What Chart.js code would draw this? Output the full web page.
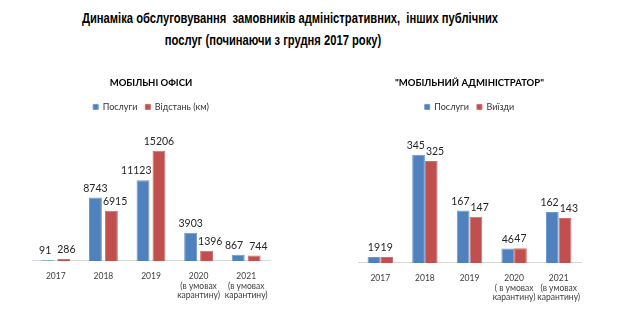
<!DOCTYPE html>
<html>
<head>
<meta charset="utf-8">
<script src="https://cdn.jsdelivr.net/npm/chart.js@4/dist/chart.umd.min.js"></script>
<style>
  body { margin: 0; background: #fff; }
  #page { position: relative; width: 630px; height: 329px; overflow: hidden; }
  .head {
    position: absolute; text-align: center; white-space: pre;
    font-family: "Liberation Sans", Arial, sans-serif;
    font-weight: bold; font-size: 14px; color: #000; line-height: 16px;
    transform: scaleX(0.8); transform-origin: center;
  }
  canvas { position: absolute; }
</style>
</head>
<body>
<div id="page">
  <div class="head" style="left:0; width:580px; top:10px;">Динаміка обслуговування  замовників адміністративних,  інших публічних</div>
  <div class="head" style="left:0; width:546px; top:32px;">послуг (починаючи з грудня 2017 року)</div>
  <canvas id="offices" width="300" height="269" style="left:0; top:60px;"></canvas>
  <canvas id="admin" width="300" height="269" style="left:315px; top:60px;"></canvas>
</div>
<script>
// Мобільні офіси
const officeYears = [['2017'], ['2018'], ['2019'], ['2020', '(в умовах', 'карантину)'], ['2021', '(в умовах', 'карантину)']];
const officeServices = [91, 8743, 11123, 3903, 867];
const officeDistance = [286, 6915, 15206, 1396, 744];

// "Мобільний адміністратор"
const adminYears = [['2017'], ['2018'], ['2019'], ['2020', '( в умовах', 'карантину)'], ['2021', '(в умовах', 'карантину)']];
const adminServices = [19, 345, 167, 46, 162];
const adminTrips = [19, 325, 147, 47, 143];

const BLUE = '#4F81BD';
const RED = '#C0504D';
const LABEL_FONT = 'Lato, "Open Sans", sans-serif';

// values printed above each bar; a label is moved sideways when it would
// run into the neighbouring bar or the neighbouring label
const barValues = {
  id: 'barValues',
  afterDatasetsDraw(chart, args, opts) {
    const ctx = chart.ctx;
    const gap = opts.gap || 0;
    const lift = 4;
    ctx.save();
    ctx.font = '10.5px ' + LABEL_FONT;
    ctx.fillStyle = '#262626';
    ctx.textAlign = 'center';
    ctx.textBaseline = 'bottom';
    const metaA = chart.getDatasetMeta(0).data;
    const metaB = chart.getDatasetMeta(1).data;
    const dataA = chart.data.datasets[0].data;
    const dataB = chart.data.datasets[1].data;
    metaA.forEach((barA, j) => {
      const barB = metaB[j];
      const ta = String(dataA[j]), tb = String(dataB[j]);
      let xa = barA.x, xb = barB.x;
      const wa = ctx.measureText(ta).width, wb = ctx.measureText(tb).width;
      if (Math.abs(barA.y - barB.y) < 13) {
        const space = (xb - wb / 2) - (xa + wa / 2);
        if (space < gap) {
          const d = (gap - space) / 2;
          xa -= d;
          xb += d;
        }
      }
      const leftOfB = barB.x - barB.width / 2 - 1;
      if (barB.y < barA.y - lift && xa + wa / 2 > leftOfB) xa = leftOfB - wa / 2;
      const rightOfA = barA.x + barA.width / 2 + 1;
      if (barA.y < barB.y - lift && xb - wb / 2 < rightOfA) xb = rightOfA + wb / 2;
      ctx.fillText(ta, xa, barA.y - lift);
      ctx.fillText(tb, xb, barB.y - lift);
    });
    ctx.restore();
  }
};

function makeChart(id, title, labels, series, yMax, pad, catPct, barPct, gap) {
  return new Chart(document.getElementById(id), {
    type: 'bar',
    data: {
      labels: labels,
      datasets: series.map(s => ({
        label: s.name,
        data: s.data,
        backgroundColor: s.color,
        borderColor: s.border,
        borderWidth: 1,
        categoryPercentage: catPct,
        barPercentage: barPct
      }))
    },
    options: {
      responsive: false,
      animation: false,
      layout: { padding: pad },
      plugins: {
        title: {
          display: true,
          text: title,
          color: '#000',
          font: { family: LABEL_FONT, size: 9.5, weight: 'bold' },
          padding: { top: 17, bottom: 6 }
        },
        legend: {
          position: 'top',
          labels: {
            boxWidth: 5, boxHeight: 5, padding: 8,
            color: '#333',
            font: { family: LABEL_FONT, size: 9 }
          }
        },
        tooltip: { enabled: false },
        barValues: { gap: gap }
      },
      scales: {
        x: {
          grid: { display: false, drawTicks: false },
          border: { color: '#d9d9d9', width: 1 },
          ticks: {
            color: '#404040', padding: 11, maxRotation: 0, autoSkip: false,
            font: { family: LABEL_FONT, size: 8.5, lineHeight: 1.1 }
          }
        },
        y: { display: false, min: 0, max: yMax }
      }
    },
    plugins: [barValues]
  });
}

makeChart('offices', 'МОБІЛЬНІ ОФІСИ', officeYears, [
  { name: 'Послуги', data: officeServices, color: BLUE, border: '#6f98cc' },
  { name: 'Відстань (км)', data: officeDistance, color: RED, border: '#d06e6b' }
], 19245, { left: 32, right: 30, top: 0, bottom: 18 }, 0.67, 0.81, 6);

makeChart('admin', '"МОБІЛЬНИЙ АДМІНІСТРАТОР"', adminYears, [
  { name: 'Послуги', data: adminServices, color: BLUE, border: '#6f98cc' },
  { name: 'Виїзди', data: adminTrips, color: RED, border: '#d06e6b' }
], 451, { left: 43, right: 34, top: 0, bottom: 16 }, 0.57, 1.0, 0);
</script>
</body>
</html>
